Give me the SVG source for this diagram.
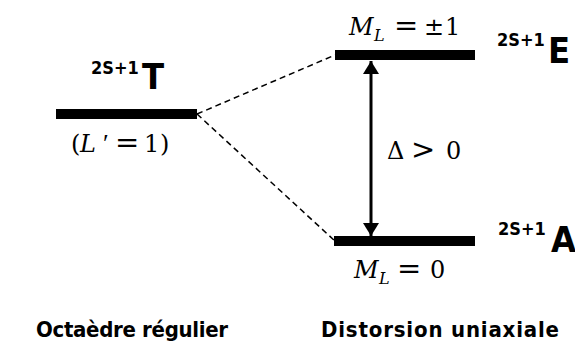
<svg xmlns="http://www.w3.org/2000/svg" width="575" height="342" viewBox="0 0 575 342">
<style>
.bar{fill:#000}
.sup{font-family:"DejaVu Sans Condensed","DejaVu Sans",sans-serif;font-weight:bold;font-size:18px;fill:#000}
.big{font-family:"DejaVu Sans Condensed","DejaVu Sans",sans-serif;font-weight:bold;font-size:36px;fill:#000}
.cap{font-family:"DejaVu Sans Condensed","DejaVu Sans",sans-serif;font-weight:bold;font-size:22px;fill:#000}
.m{font-family:"DejaVu Serif","Liberation Serif",serif;font-size:24px;fill:#000}
.op{font-family:"DejaVu Sans","Liberation Sans",sans-serif;font-size:29px}
.pr{font-family:"Liberation Serif",serif;font-size:26px}
.i{font-style:italic}
.sub{font-style:italic;font-size:16px}
.dash{stroke:#000;stroke-width:1.5;stroke-dasharray:6 4;fill:none}
</style>
<defs>
<marker id="ah" viewBox="0 0 13 16" refX="13" refY="8" markerWidth="13" markerHeight="16" markerUnits="userSpaceOnUse" orient="auto-start-reverse">
<path d="M0,0 L13,8 L0,16 Z" fill="#000"/>
</marker>
</defs>
<g id="connectors">
<line class="dash" x1="197" y1="114" x2="335" y2="55"/>
<line class="dash" x1="197" y1="114" x2="335" y2="241"/>
<line x1="371" y1="61" x2="371" y2="236" stroke="#000" stroke-width="3" marker-start="url(#ah)" marker-end="url(#ah)"/>
</g>
<g id="level-T">
<rect class="bar" x="56" y="109" width="141" height="10"/>
<text class="sup" x="91" y="74">2S+1</text>
<text class="big" x="142" y="89">T</text>
<text class="m" y="152"><tspan x="71">(</tspan><tspan class="i" x="80">L</tspan><tspan class="pr" x="103">′</tspan><tspan class="op" x="115">=</tspan><tspan x="144">1</tspan><tspan x="160">)</tspan></text>
</g>
<g id="level-E">
<rect class="bar" x="335" y="50" width="140" height="10"/>
<text class="m" y="35"><tspan class="i" x="349">M</tspan><tspan class="sub" x="374" y="41">L</tspan><tspan class="op" x="394" y="35">=</tspan><tspan x="424">±</tspan><tspan x="445">1</tspan></text>
<text class="sup" x="497" y="46">2S+1</text>
<text class="big" x="548" y="63">E</text>
</g>
<g id="level-A">
<rect class="bar" x="334" y="236" width="141" height="10"/>
<text class="m" y="278"><tspan class="i" x="354">M</tspan><tspan class="sub" x="379" y="284">L</tspan><tspan class="op" x="397" y="278">=</tspan><tspan x="430">0</tspan></text>
<text class="sup" x="498" y="235">2S+1</text>
<text class="big" x="551" y="252">A</text>
</g>
<g id="gap-label">
<text class="m" y="159"><tspan x="387">Δ</tspan><tspan class="op" x="411">&gt;</tspan><tspan x="446">0</tspan></text>
</g>
<g id="captions">
<text class="cap" x="36" y="337" textLength="192">Octaèdre régulier</text>
<text class="cap" x="321" y="337" textLength="238">Distorsion uniaxiale</text>
</g>
</svg>
